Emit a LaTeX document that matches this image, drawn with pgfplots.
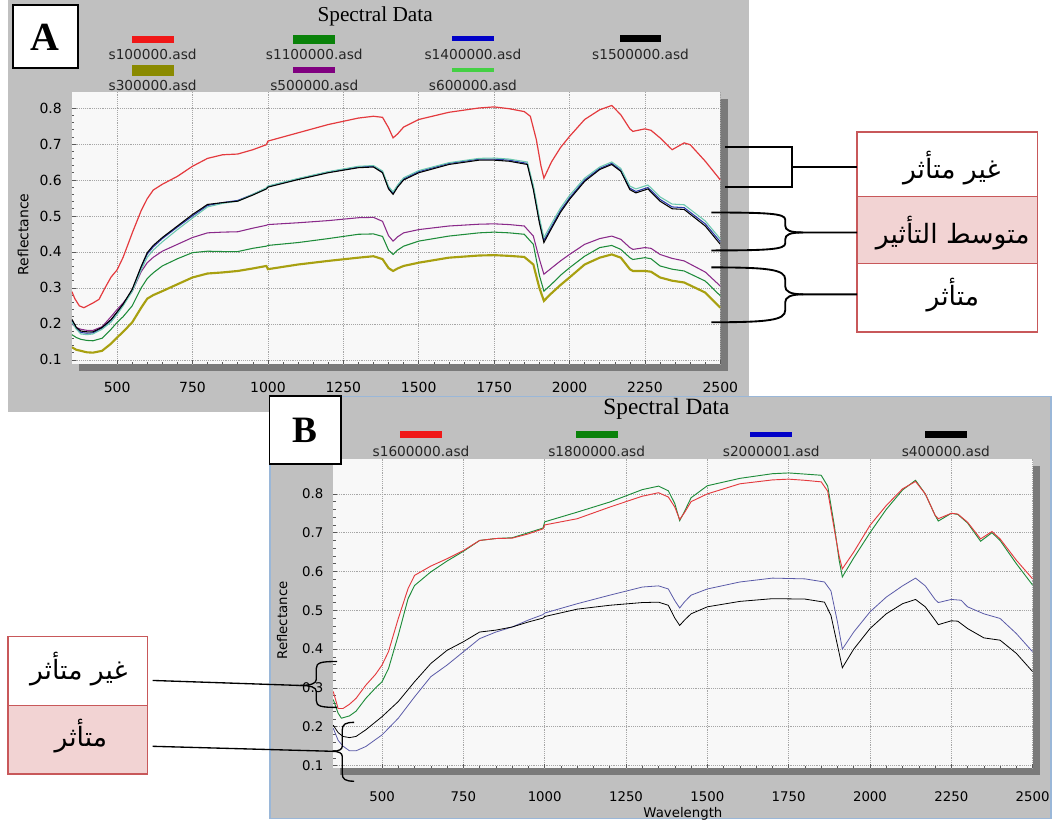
\documentclass[border=0pt]{standalone}
\usepackage{pgfplots}
\pgfplotsset{compat=1.18}
\usepackage{fontspec}
\setmainfont{Liberation Serif}
\newfontfamily\uifont{DejaVu Sans}
\newfontfamily\arabicfont[Script=Arabic]{DejaVu Sans}
\TeXXeTstate=1

\definecolor{panelgray}{HTML}{C0C0C0}
\definecolor{plotbg}{HTML}{F8F8F8}
\definecolor{shadow}{HTML}{7A7A7A}
\definecolor{pinkbox}{HTML}{F2D3D3}
\definecolor{boxred}{HTML}{C8585A}
\definecolor{bluebord}{HTML}{9AB7D8}
\definecolor{lred}{HTML}{F01818}
\definecolor{lgreen}{HTML}{0A820A}
\definecolor{lblue}{HTML}{0000C8}
\definecolor{lolive}{HTML}{8A8A00}
\definecolor{lpurple}{HTML}{800080}
\definecolor{llgreen}{HTML}{44D044}
\definecolor{pred}{HTML}{E43A3E}
\definecolor{pgreen}{HTML}{1E8C3A}
\definecolor{pblue}{HTML}{2838A8}
\definecolor{polive}{HTML}{A8A010}
\definecolor{ppurple}{HTML}{8A2A8A}
\definecolor{pteal}{HTML}{6CC8B0}
\definecolor{bblue}{HTML}{5A5AA8}

\pgfplotsset{
  spec/.style={
    scale only axis, anchor=north west,
    xmin=350, xmax=2500,
    axis background/.style={fill=plotbg},
    axis line style={draw=none},
    grid=major, major grid style={densely dotted, gray!70, line width=0.4pt},
    xtick={500,750,...,2500}, ytick={0.1,0.2,0.3,0.4,0.5,0.6,0.7,0.8},
    minor x tick num=4, minor y tick num=4,
    tick align=inside, major tick length=3pt, minor tick length=2pt,
    tick style={gray!70!black, line width=0.4pt},
    tick pos=left,
    /pgf/number format/assume math mode=true,
    /pgf/number format/1000 sep={},
    yticklabel style={/pgf/number format/fixed, /pgf/number format/precision=1,
      /pgf/number format/fixed zerofill, xshift=-4pt},
    label style={font=\uifont\fontsize{10}{12}\selectfont},
    no markers,
  }
}

\begin{document}
\begin{tikzpicture}
\begin{scope}[x=0.75pt,y=-0.75pt]
\useasboundingbox (0,0) rectangle (1054,821);
\fill[panelgray] (8,0) rectangle (751,413);
\fill[shadow] (79,99) rectangle (730,372);
\end{scope}

% ---------- panel A ----------
\begin{axis}[spec, at={(54pt,-69pt)}, width=487.5pt, height=204.75pt,
  ymin=0.088, ymax=0.845,
  tick label style={font=\uifont\fontsize{10.5}{12}\selectfont},
  xticklabel style={yshift=-10pt},
  ylabel={Reflectance},
  ylabel style={at={(axis description cs:-0.075,0.476)}, anchor=center, font=\uifont\fontsize{10.5}{12}\selectfont},
]
% s300000 (olive)
\addplot[polive, line width=1.6pt] coordinates {(350,0.135)(365,0.128)(380,0.125)(400,0.121)(420,0.120)(450,0.125)(480,0.145)(500,0.162)(520,0.178)(550,0.204)(580,0.245)(600,0.270)(620,0.280)(650,0.291)(700,0.310)(750,0.329)(800,0.340)(850,0.343)(900,0.347)(950,0.354)(995,0.361)(1000,0.352)(1100,0.365)(1200,0.375)(1300,0.384)(1350,0.388)(1380,0.380)(1400,0.355)(1415,0.347)(1430,0.354)(1450,0.361)(1500,0.370)(1600,0.384)(1700,0.390)(1750,0.391)(1800,0.389)(1850,0.386)(1880,0.365)(1900,0.300)(1915,0.264)(1940,0.285)(1970,0.308)(2000,0.329)(2050,0.365)(2100,0.384)(2140,0.393)(2170,0.384)(2200,0.352)(2210,0.347)(2250,0.347)(2270,0.345)(2300,0.329)(2340,0.320)(2380,0.315)(2450,0.287)(2500,0.245)};
% s1100000 (green)
\addplot[pgreen, line width=0.8pt] coordinates {(350,0.170)(365,0.162)(380,0.157)(400,0.154)(420,0.153)(450,0.160)(480,0.185)(500,0.204)(520,0.220)(550,0.250)(580,0.300)(600,0.326)(620,0.342)(650,0.361)(700,0.381)(750,0.398)(800,0.402)(850,0.401)(900,0.401)(950,0.410)(995,0.416)(1000,0.418)(1100,0.426)(1200,0.437)(1300,0.449)(1350,0.450)(1380,0.443)(1400,0.405)(1415,0.393)(1430,0.405)(1450,0.416)(1500,0.430)(1600,0.444)(1700,0.453)(1750,0.455)(1800,0.453)(1850,0.449)(1880,0.421)(1900,0.335)(1915,0.291)(1940,0.310)(1970,0.335)(2000,0.356)(2050,0.388)(2100,0.412)(2140,0.418)(2170,0.407)(2200,0.384)(2210,0.379)(2250,0.384)(2270,0.381)(2300,0.361)(2340,0.352)(2380,0.347)(2450,0.319)(2500,0.278)};
% s500000 (purple)
\addplot[ppurple, line width=0.8pt] coordinates {(350,0.200)(365,0.190)(380,0.185)(400,0.182)(420,0.182)(450,0.192)(480,0.220)(500,0.240)(520,0.258)(550,0.290)(580,0.345)(600,0.370)(620,0.385)(650,0.402)(700,0.421)(750,0.440)(800,0.453)(850,0.455)(900,0.456)(950,0.466)(995,0.474)(1000,0.476)(1100,0.481)(1200,0.487)(1300,0.495)(1350,0.496)(1380,0.485)(1400,0.445)(1415,0.430)(1430,0.442)(1450,0.453)(1500,0.462)(1600,0.472)(1700,0.477)(1750,0.478)(1800,0.476)(1850,0.472)(1880,0.444)(1900,0.380)(1915,0.338)(1940,0.355)(1970,0.375)(2000,0.393)(2050,0.421)(2100,0.437)(2140,0.444)(2170,0.435)(2200,0.412)(2210,0.407)(2250,0.412)(2270,0.410)(2300,0.393)(2340,0.382)(2380,0.375)(2450,0.344)(2500,0.305)};
% s1400000 (blue)
\addplot[pblue, line width=0.8pt] coordinates {(350,0.210)(365,0.188)(380,0.176)(400,0.174)(420,0.175)(450,0.188)(480,0.210)(500,0.232)(520,0.254)(550,0.294)(580,0.357)(600,0.394)(620,0.414)(650,0.437)(700,0.469)(750,0.500)(800,0.529)(850,0.537)(900,0.543)(950,0.560)(995,0.577)(1000,0.582)(1100,0.603)(1200,0.622)(1300,0.636)(1350,0.638)(1380,0.622)(1400,0.578)(1415,0.563)(1430,0.583)(1450,0.603)(1500,0.623)(1600,0.646)(1700,0.658)(1750,0.658)(1800,0.655)(1860,0.646)(1880,0.578)(1900,0.487)(1915,0.432)(1940,0.470)(1970,0.515)(2000,0.550)(2050,0.600)(2100,0.632)(2140,0.646)(2170,0.627)(2200,0.577)(2220,0.568)(2260,0.579)(2300,0.546)(2340,0.525)(2380,0.523)(2450,0.478)(2500,0.428)};
% s600000 (light green)
\addplot[pteal, line width=0.8pt] coordinates {(350,0.205)(365,0.185)(380,0.172)(400,0.170)(420,0.172)(450,0.185)(480,0.205)(500,0.226)(520,0.250)(550,0.290)(580,0.350)(600,0.385)(620,0.405)(650,0.428)(700,0.462)(750,0.494)(800,0.525)(850,0.535)(900,0.541)(950,0.560)(995,0.578)(1000,0.583)(1100,0.604)(1200,0.623)(1300,0.638)(1350,0.640)(1380,0.625)(1400,0.582)(1415,0.567)(1430,0.586)(1450,0.606)(1500,0.626)(1600,0.648)(1700,0.660)(1750,0.661)(1800,0.658)(1860,0.650)(1880,0.585)(1900,0.495)(1915,0.440)(1940,0.478)(1970,0.522)(2000,0.557)(2050,0.605)(2100,0.636)(2140,0.650)(2170,0.632)(2200,0.583)(2220,0.575)(2260,0.586)(2300,0.553)(2340,0.533)(2380,0.531)(2450,0.486)(2500,0.436)};
% s1500000 (black)
\addplot[black, line width=0.8pt] coordinates {(350,0.213)(365,0.190)(380,0.180)(400,0.178)(420,0.178)(450,0.190)(480,0.212)(500,0.233)(520,0.255)(550,0.296)(580,0.360)(600,0.398)(620,0.418)(650,0.440)(700,0.472)(750,0.504)(800,0.532)(850,0.537)(900,0.541)(950,0.558)(995,0.575)(1000,0.580)(1100,0.601)(1200,0.620)(1300,0.634)(1350,0.636)(1380,0.620)(1400,0.575)(1415,0.560)(1430,0.580)(1450,0.600)(1500,0.620)(1600,0.643)(1700,0.655)(1750,0.655)(1800,0.652)(1860,0.643)(1880,0.573)(1900,0.481)(1915,0.426)(1940,0.465)(1970,0.510)(2000,0.546)(2050,0.596)(2100,0.629)(2140,0.643)(2170,0.624)(2200,0.573)(2220,0.564)(2260,0.575)(2300,0.541)(2340,0.520)(2380,0.518)(2450,0.472)(2500,0.421)};
% s100000 (red)
\addplot[pred, line width=0.9pt] coordinates {(350,0.290)(360,0.270)(375,0.250)(390,0.245)(420,0.258)(440,0.268)(460,0.300)(480,0.330)(500,0.350)(520,0.385)(550,0.452)(580,0.515)(600,0.548)(620,0.572)(650,0.588)(700,0.610)(750,0.638)(800,0.660)(850,0.670)(900,0.672)(950,0.684)(995,0.698)(1000,0.708)(1100,0.731)(1200,0.754)(1300,0.772)(1350,0.777)(1380,0.774)(1400,0.745)(1415,0.717)(1430,0.728)(1450,0.747)(1500,0.768)(1600,0.788)(1700,0.800)(1750,0.803)(1800,0.798)(1850,0.790)(1870,0.777)(1890,0.712)(1905,0.640)(1915,0.605)(1940,0.650)(1970,0.690)(2000,0.721)(2050,0.768)(2100,0.795)(2140,0.807)(2170,0.781)(2200,0.742)(2210,0.735)(2250,0.742)(2270,0.738)(2300,0.717)(2340,0.684)(2380,0.703)(2400,0.698)(2450,0.652)(2500,0.600)};
\end{axis}

\begin{scope}[x=0.75pt,y=-0.75pt]
\fill[panelgray] (270,397) rectangle (1054,821);
\draw[bluebord, line width=1pt] (270.5,397.5) rectangle (1053.5,820.5);
\fill[shadow] (341,467) rectangle (1042,777);
\end{scope}

% ---------- panel B ----------
\begin{axis}[spec, at={(250.5pt,-345pt)}, width=525.75pt, height=232.5pt,
  ymin=0.093, ymax=0.89,
  tick label style={font=\uifont\fontsize{10}{12}\selectfont},
  xticklabel style={yshift=-14pt},
  ylabel={Reflectance}, xlabel={Wavelength},
  ylabel style={at={(axis description cs:-0.073,0.478)}, anchor=center},
  xlabel style={at={(axis description cs:0.5,-0.148)}, anchor=center},
]
% s2000001 (blue)
\addplot[bblue, line width=0.6pt] coordinates {(350,0.196)(365,0.165)(380,0.150)(400,0.138)(420,0.138)(450,0.149)(500,0.179)(550,0.222)(600,0.277)(650,0.329)(700,0.359)(750,0.393)(800,0.427)(850,0.444)(900,0.457)(950,0.475)(995,0.489)(1000,0.493)(1100,0.517)(1200,0.539)(1300,0.560)(1350,0.563)(1380,0.555)(1400,0.525)(1415,0.506)(1430,0.522)(1450,0.539)(1500,0.555)(1600,0.573)(1700,0.583)(1800,0.581)(1860,0.573)(1880,0.550)(1900,0.470)(1915,0.400)(1950,0.444)(2000,0.496)(2050,0.534)(2100,0.563)(2140,0.583)(2170,0.563)(2200,0.528)(2210,0.520)(2250,0.528)(2280,0.526)(2300,0.509)(2350,0.491)(2400,0.479)(2450,0.440)(2500,0.393)};
% s400000 (black)
\addplot[black, line width=0.6pt] coordinates {(350,0.204)(365,0.185)(380,0.175)(400,0.172)(420,0.175)(450,0.192)(500,0.226)(550,0.265)(600,0.316)(650,0.363)(700,0.397)(750,0.419)(800,0.444)(850,0.449)(900,0.457)(950,0.470)(995,0.480)(1000,0.484)(1100,0.503)(1200,0.513)(1300,0.520)(1350,0.521)(1380,0.513)(1400,0.480)(1415,0.461)(1430,0.475)(1450,0.491)(1500,0.509)(1600,0.523)(1700,0.530)(1800,0.529)(1860,0.521)(1880,0.487)(1900,0.410)(1915,0.352)(1950,0.400)(2000,0.453)(2050,0.491)(2100,0.517)(2140,0.528)(2170,0.509)(2200,0.475)(2210,0.463)(2250,0.473)(2270,0.472)(2300,0.453)(2350,0.429)(2400,0.423)(2450,0.389)(2500,0.342)};
% s1800000 (green)
\addplot[pgreen, line width=0.7pt] coordinates {(350,0.270)(365,0.235)(375,0.222)(400,0.228)(420,0.240)(450,0.273)(480,0.300)(500,0.316)(520,0.350)(550,0.436)(580,0.530)(600,0.564)(650,0.599)(700,0.627)(750,0.652)(800,0.680)(850,0.685)(900,0.687)(950,0.700)(995,0.712)(1000,0.728)(1100,0.753)(1200,0.779)(1300,0.811)(1350,0.820)(1380,0.808)(1400,0.775)(1415,0.731)(1430,0.755)(1450,0.790)(1500,0.821)(1600,0.840)(1700,0.852)(1750,0.854)(1800,0.851)(1850,0.848)(1870,0.820)(1890,0.720)(1905,0.630)(1915,0.586)(1950,0.635)(2000,0.700)(2050,0.760)(2100,0.810)(2140,0.835)(2170,0.800)(2200,0.745)(2210,0.730)(2250,0.750)(2270,0.747)(2300,0.725)(2340,0.678)(2375,0.700)(2400,0.680)(2450,0.620)(2500,0.565)};
% s1600000 (red)
\addplot[pred, line width=0.7pt] coordinates {(350,0.291)(365,0.247)(380,0.247)(400,0.258)(420,0.273)(450,0.307)(480,0.335)(500,0.359)(520,0.394)(550,0.479)(580,0.556)(600,0.590)(650,0.614)(700,0.633)(750,0.654)(800,0.680)(850,0.685)(900,0.686)(950,0.697)(995,0.710)(1000,0.720)(1100,0.736)(1200,0.766)(1300,0.794)(1350,0.803)(1380,0.792)(1400,0.766)(1415,0.734)(1430,0.752)(1450,0.780)(1500,0.800)(1600,0.826)(1700,0.836)(1750,0.838)(1800,0.835)(1850,0.831)(1870,0.807)(1890,0.710)(1905,0.640)(1915,0.607)(1950,0.650)(2000,0.719)(2050,0.770)(2100,0.813)(2140,0.832)(2170,0.800)(2200,0.745)(2210,0.736)(2250,0.750)(2270,0.748)(2300,0.727)(2340,0.684)(2375,0.703)(2400,0.684)(2450,0.629)(2500,0.581)};
\end{axis}

% ---------- titles, legends, annotations ----------
\begin{scope}[x=0.75pt,y=-0.75pt]
\tikzset{lg/.style={font=\uifont\fontsize{10.3}{12}\selectfont, inner sep=0pt, text=black!85},
  ar/.style={font=\arabicfont\fontsize{20}{22}\selectfont, inner sep=0pt}}
% panel A title + legend
\node[font=\fontsize{16}{18}\selectfont] at (376,16) {Spectral Data};
\fill[lred]    (132,36) rectangle (174,43);   \node[lg] at (153,55) {s100000.asd};
\fill[lgreen]  (294,35) rectangle (336,44);   \node[lg] at (315,55) {s1100000.asd};
\fill[lblue]   (453,36.5) rectangle (495,41.5); \node[lg] at (474,55) {s1400000.asd};
\fill[black]   (621,35.5) rectangle (663,42.5); \node[lg] at (642,55) {s1500000.asd};
\fill[lolive]  (132,65) rectangle (174,76);   \node[lg] at (153,86) {s300000.asd};
\fill[lpurple] (294,67.5) rectangle (336,73.5); \node[lg] at (315,86) {s500000.asd};
\fill[llgreen] (453,68) rectangle (495,72);   \node[lg] at (474,86) {s600000.asd};
% box A
\draw[black, line width=1.2pt, fill=white] (13,5) rectangle (78,68);
\node[font=\bfseries\fontsize{30}{32}\selectfont] at (45.5,37) {A};

% panel B title + legend
\node[font=\fontsize{17.5}{19}\selectfont] at (668,410) {Spectral Data};
\fill[lred]   (401,431.5) rectangle (443,438.5); \node[lg] at (422,452) {s1600000.asd};
\fill[lgreen] (577,431.5) rectangle (619,438.5); \node[lg] at (598,452) {s1800000.asd};
\fill[lblue]  (752,432.5) rectangle (794,437.5); \node[lg] at (773,452) {s2000001.asd};
\fill[black]  (927,431.5) rectangle (969,438.5); \node[lg] at (948,452) {s400000.asd};
% box B
\draw[black, line width=1.2pt, fill=white] (270,397) rectangle (342,465);
\node[font=\bfseries\fontsize{28}{30}\selectfont] at (306,431) {B};

% right-hand class boxes (panel A)
\filldraw[fill=white, draw=boxred, line width=1.2pt] (859,132) rectangle (1040,197);
\filldraw[fill=pinkbox, draw=boxred, line width=1.2pt] (859,197) rectangle (1040,264);
\filldraw[fill=white, draw=boxred, line width=1.2pt] (859,264) rectangle (1040,333);
\node[ar] at (954,168) {\beginR غير متأثر\endR};
\node[ar] at (955,234) {\beginR متوسط التأثير\endR};
\node[ar] at (955,296) {\beginR متأثر\endR};
% brackets (panel A)
\draw[black, line width=1.4pt] (727,147) -- (794,147) -- (794,187) -- (727,187);
\draw[black, line width=1.4pt] (794,167) -- (859,167);
\draw[black, line width=1.4pt] (713,213) .. controls (770,213) and (787,214) .. (787,220) -- (787,226) .. controls (787,231) and (792,233) .. (805,233) -- (859,233);
\draw[black, line width=1.4pt] (713,251) .. controls (770,251) and (787,250) .. (787,244) -- (787,240) .. controls (787,235) and (792,233) .. (805,233);
\draw[black, line width=1.4pt] (713,268) .. controls (770,268) and (787,270) .. (787,280) -- (787,287) .. controls (787,292) and (792,295) .. (805,295) -- (859,295);
\draw[black, line width=1.4pt] (713,323) .. controls (770,323) and (787,321) .. (787,311) -- (787,303) .. controls (787,298) and (792,295) .. (805,295);

% left-hand class boxes (panel B)
\filldraw[fill=white, draw=boxred, line width=1.2pt] (8,638) rectangle (148,707);
\filldraw[fill=pinkbox, draw=boxred, line width=1.2pt] (8,707) rectangle (148,776);
\node[ar] at (79,671) {\beginR غير متأثر\endR};
\node[ar] at (81,738) {\beginR متأثر\endR};
% braces (panel B)
\draw[black, line width=1pt] (153,682) -- (300,687);
\draw[black, line width=1pt] (338,663) .. controls (322,663) and (317,664) .. (317,670) -- (317,681) .. controls (317,685) and (312,687) .. (300,687);
\draw[black, line width=1pt] (338,709) .. controls (322,709) and (317,708) .. (317,702) -- (317,693) .. controls (317,689) and (312,687) .. (300,687);
\draw[black, line width=1pt] (153,748) -- (333,753);
\draw[black, line width=1pt] (355,724) .. controls (346,724) and (343,726) .. (343,732) -- (343,748) .. controls (343,751) and (340,753) .. (333,753);
\draw[black, line width=1pt] (355,783) .. controls (346,783) and (343,781) .. (343,775) -- (343,758) .. controls (343,755) and (340,753) .. (333,753);
\end{scope}
\end{tikzpicture}
\end{document}
